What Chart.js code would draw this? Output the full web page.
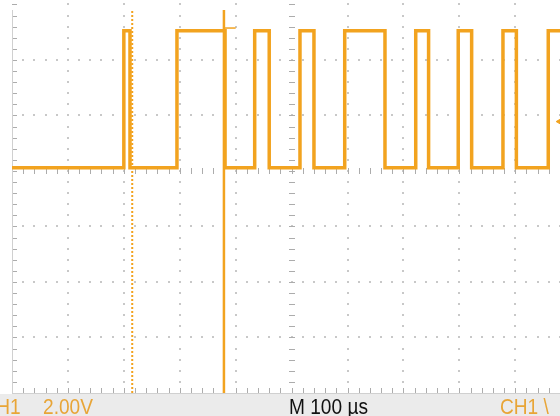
<!DOCTYPE html>
<html>
<head>
<meta charset="utf-8">
<script src="https://cdn.jsdelivr.net/npm/chart.js@4.4.0/dist/chart.umd.min.js"></script>
<style>
  html, body { margin: 0; padding: 0; background: #fff; }
  #scope { display: block; }
</style>
</head>
<body>
<canvas id="scope" width="560" height="416"></canvas>
<script>
// edge times (us, 0 = centre of screen) and the level the trace goes to there (V)
const edgeTimes  = [-500, -300, -289, -205, -119, -66, -40, 15, 40, 95, 167, 222, 245, 298, 322, 378, 402, 459, 480];
const edgeLevels = [0.12, 5.05, 0.12, 5.05, 0.12, 5.05, 0.12, 5.05, 0.12, 5.05, 0.12, 5.05, 0.12, 5.05, 0.12, 5.05, 0.12, 5.05, 5.05];

// cursors and markers
const cursorSolid = -121;
const cursorDotted = -285;
const markerTimes = [-121, -100];
const markerLevels = [5.15, 5.15];
const triggerLevel = 1.78;

// status bar texts
const chName = 'CH1';
const chScale = '2.00V';
const timeLabel = 'M 100 µs';
const trigLabel = 'CH1 \\';

const timeMin = -500, timeMax = 480;
const voltMin = -8, voltMax = 5.8;
const timeDiv = 100, voltDiv = 2;

const traceColor = '#F2A31F';
const textOrange = '#E8A537';

function points(xs, ys) {
    return xs.map((t, i) => ({ x: t, y: ys[i] }));
}

const scopeGrid = {
    id: 'scopeGrid',
    beforeDraw(chart) {
        const { ctx } = chart;
        ctx.save();
        ctx.fillStyle = '#ebebeb';
        ctx.fillRect(0, 394, chart.width, chart.height - 394);
        ctx.restore();
    },
    beforeDatasetsDraw(chart) {
        const { ctx, chartArea: a, scales: { x, y } } = chart;
        const xMinor = timeDiv / 5, yMinor = voltDiv / 5;
        const nx = Math.round((timeMax - timeMin) / xMinor);
        const ny = Math.round((voltMax - voltMin) / yMinor);
        ctx.save();

        // dotted major lines
        ctx.fillStyle = '#c8c8c8';
        for (let k = 1; k * timeDiv + timeMin < timeMax; k++) {
            const t = timeMin + k * timeDiv;
            if (t === 0) continue;
            const px = Math.round(x.getPixelForValue(t));
            for (let j = 1; j <= ny; j++) {
                const py = Math.round(y.getPixelForValue(voltMin + j * yMinor));
                ctx.fillRect(px - 1, py - 1, 2, 2);
            }
        }
        for (let k = 1; k * voltDiv + voltMin < voltMax; k++) {
            const v = voltMin + k * voltDiv;
            if (v === 0) continue;
            const py = Math.round(y.getPixelForValue(v));
            for (let i = 1; i <= nx; i++) {
                const px = Math.round(x.getPixelForValue(timeMin + i * xMinor));
                ctx.fillRect(px - 1, py - 1, 2, 2);
            }
        }

        // centre axes and borders with minor ticks
        ctx.fillStyle = '#acacac';
        const cx = Math.round(x.getPixelForValue(0));
        const cy = Math.round(y.getPixelForValue(0));
        const lx = Math.round(a.left);
        const by = Math.round(a.bottom);
        for (let j = 1; j <= ny; j++) {
            const py = Math.round(y.getPixelForValue(voltMin + j * yMinor));
            ctx.fillRect(cx - 3, py, 6, 1);
            ctx.fillRect(lx, py, 5, 1);
        }
        for (let i = 1; i <= nx; i++) {
            const px = Math.round(x.getPixelForValue(timeMin + i * xMinor));
            ctx.fillRect(px, cy - 3, 1, 6);
            ctx.fillRect(px, by - 5, 1, 5);
        }
        ctx.fillStyle = '#d0d0d0';
        ctx.fillRect(lx, a.top, 1, by - a.top);
        ctx.fillRect(lx, by, chart.width - lx, 1);
        ctx.restore();
    },
    afterDraw(chart) {
        const { ctx } = chart;
        ctx.save();
        ctx.font = '22px "Liberation Sans", Arial, sans-serif';
        ctx.textBaseline = 'alphabetic';
        // the scope font is narrow: squeeze so "M 100 µs" spans ~79px
        const sx = 79 / ctx.measureText(timeLabel).width;
        const put = (text, left) => {
            ctx.save();
            ctx.translate(left, 414);
            ctx.scale(sx, 1);
            ctx.fillText(text, 0, 0);
            ctx.restore();
        };
        ctx.fillStyle = textOrange;
        put(chName, 10 - ctx.measureText('CH').width * sx);
        put(chScale, 43);
        put(trigLabel, 500);
        ctx.fillStyle = '#111';
        put(timeLabel, 289);
        ctx.restore();
    }
};

const ctx = document.getElementById('scope').getContext('2d');
const scopeChart = new Chart(ctx, {
    type: 'line',
    data: {
        datasets: [
            {
                label: 'CH1',
                data: points(edgeTimes, edgeLevels),
                stepped: true,
                borderColor: traceColor,
                borderWidth: 3.5,
                pointRadius: 0,
            },
            {
                label: 'Cursor 1',
                data: points([cursorSolid, cursorSolid], [voltMin, voltMax]),
                borderColor: traceColor,
                borderWidth: 2.5,
                pointRadius: 0,
            },
            {
                label: 'Cursor 2',
                data: points([cursorDotted, cursorDotted], [voltMin, voltMax]),
                borderColor: traceColor,
                borderWidth: 2,
                borderDash: [2, 2],
                pointRadius: 0,
            },
            {
                label: 'Marker',
                data: points(markerTimes, markerLevels),
                borderColor: traceColor,
                borderWidth: 1.5,
                pointRadius: 0,
            },
            {
                label: 'Trigger',
                data: points([timeMax + 2], [triggerLevel]),
                showLine: false,
                pointStyle: 'triangle',
                rotation: -90,
                pointRadius: 5,
                backgroundColor: traceColor,
                borderColor: traceColor,
                clip: false,
            },
        ],
    },
    options: {
        responsive: false,
        animation: false,
        events: [],
        layout: { autoPadding: false, padding: { left: 12, top: 10, right: 0, bottom: 23 } },
        plugins: { legend: { display: false }, tooltip: { enabled: false } },
        scales: {
            x: { type: 'linear', min: timeMin, max: timeMax, display: false },
            y: { type: 'linear', min: voltMin, max: voltMax, display: false },
        },
    },
    plugins: [scopeGrid],
});
</script>
</body>
</html>
